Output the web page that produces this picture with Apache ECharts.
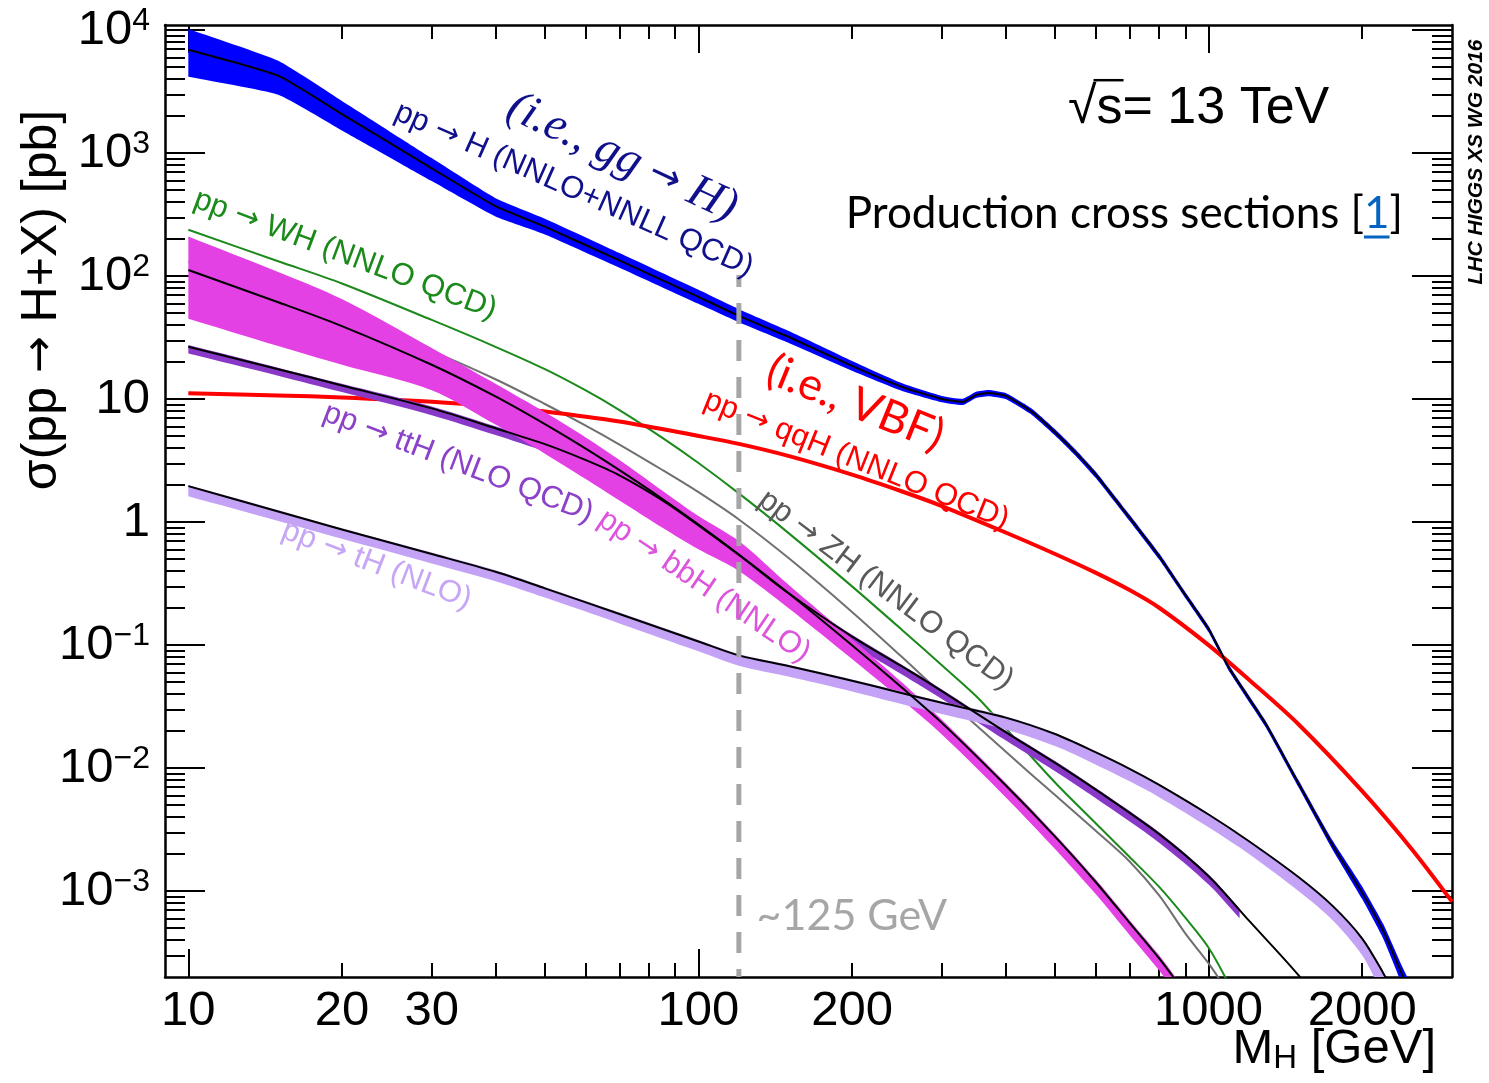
<!DOCTYPE html>
<html>
<head>
<meta charset="utf-8">
<title>Higgs production cross sections, 13 TeV</title>
<script src="https://cdn.jsdelivr.net/npm/echarts@6/dist/echarts.min.js"></script>
<style>
  html, body { margin: 0; padding: 0; background: #ffffff; }
  #chart { width: 1489px; height: 1083px; }
</style>
</head>
<body>
<div id="chart"></div>
<script>
// SM Higgs production cross sections at sqrt(s) = 13 TeV versus M_H (log-log)

const X_MIN = 9, X_MAX = 3000, Y_MIN = 2e-4, Y_MAX = 1.1e4;

// ---- axis ticks and labels ----
const xLabelValues = [10, 20, 30, 100, 200, 1000, 2000];
const xMajorTicks = [10, 100, 1000];
const xMinorTicks = [20, 30, 40, 50, 60, 70, 80, 90, 200, 300, 400, 500, 600, 700, 800, 900, 2000];
const yLabelValues = [1e-3, 1e-2, 1e-1, 1, 10, 100, 1e3, 1e4];
const yLabelTexts = ['{b|10}{s|−3}', '{b|10}{s|−2}', '{b|10}{s|−1}', '{b|1}', '{b|10}',
                     '{b|10}{s|2}', '{b|10}{s|3}', '{b|10}{s|4}'];
const yMinorTicks = [];
for (let e = -4; e <= 3; e++) {
  for (let m = 2; m <= 9; m++) {
    const v = m * Math.pow(10, e);
    if (v > Y_MIN * 1.01 && v < Y_MAX) yMinorTicks.push(v);
  }
}

// ---- pp -> H (gluon fusion), central value and scale band [pb] ----
const mGgH  = [10, 15, 20, 30, 40, 50, 70, 100, 120, 150, 200, 250, 300, 330, 350, 370, 400, 450, 500, 550, 600, 700, 800, 900, 1000, 1100, 1300, 1500, 1750, 2000, 2200, 2400, 2500];
const ggH   = [6930, 4260, 2075, 752, 370, 252, 134, 67.7, 47.5, 32.1, 18.6, 12.6, 10.0, 9.48, 10.8, 11.2, 10.6, 7.9, 5.35, 3.62, 2.44, 1.08, 0.525, 0.255, 0.135, 0.0637, 0.0221, 0.0075, 0.00236, 0.00097, 0.000473, 0.000206, 0.00014];
const ggHLo = [4170, 2980, 1528, 592, 305, 218, 117, 59.5, 42.1, 28.7, 17.0, 11.7, 9.43, 8.95, 10.2, 10.55, 10.0, 7.45, 5.05, 3.42, 2.30, 1.02, 0.495, 0.241, 0.127, 0.060, 0.0207, 0.0070, 0.00217, 0.00086, 0.00041, 0.00017, 0.00011];
const ggHHi = [10200, 5630, 2655, 910, 430, 293, 154, 77.3, 53.8, 35.9, 20.4, 13.5, 10.6, 10.05, 11.45, 11.85, 11.2, 8.37, 5.67, 3.84, 2.59, 1.145, 0.557, 0.270, 0.143, 0.0675, 0.0234, 0.0080, 0.00257, 0.00109, 0.00054, 0.00024, 0.00017];

// ---- pp -> qqH (VBF) ----
const mVBF = [10, 15, 20, 30, 40, 50, 70, 100, 120, 150, 200, 250, 300, 400, 500, 600, 700, 800, 1000, 1200, 1500, 2000, 2500, 3000];
const vbf  = [11.15, 10.7, 10.3, 9.51, 8.71, 7.93, 6.57, 5.01, 4.32, 3.45, 2.43, 1.78, 1.35, 0.822, 0.55, 0.388, 0.28, 0.201, 0.0998, 0.0522, 0.0227, 0.00649, 0.0022, 0.00082];

// ---- pp -> WH ----
const mWH = [10, 15, 20, 30, 40, 50, 60, 70, 85, 100, 120, 150, 200, 250, 300, 350, 400, 500, 600, 700, 800, 900, 1000, 1100];
const wh  = [238, 132, 87.1, 44.0, 26.6, 17.5, 11.8, 8.14, 4.84, 3.02, 1.71, 0.817, 0.300, 0.134, 0.0685, 0.0385, 0.0211, 0.00762, 0.00357, 0.00189, 0.00108, 0.000608, 0.000346, 0.00017];

// ---- pp -> ZH ----
const mZH = [10, 15, 20, 30, 40, 50, 60, 70, 85, 100, 120, 150, 200, 250, 300, 400, 500, 600, 700, 800, 900, 1000, 1100];
const zh  = [130, 73, 48, 24.5, 14.5, 9.12, 6.11, 4.27, 2.65, 1.75, 1.05, 0.512, 0.186, 0.0806, 0.0399, 0.0136, 0.00603, 0.0031, 0.00174, 0.00092, 0.000453, 0.000258, 0.000143];

// ---- pp -> bbH, central value and band ----
const mBbH  = [10, 15, 20, 30, 40, 50, 60, 70, 85, 100, 120, 150, 200, 250, 300, 400, 500, 600, 700, 800, 900];
const bbH   = [112, 61.3, 39.2, 19.0, 10.5, 6.25, 3.97, 2.64, 1.54, 0.955, 0.545, 0.265, 0.0996, 0.0454, 0.0233, 0.00724, 0.00277, 0.00119, 0.000551, 0.000283, 0.000147];
const bbHLo = [45, 27, 19, 11.8, 6.2, 3.6, 2.25, 1.5, 0.9, 0.6, 0.40, 0.2, 0.077, 0.036, 0.0187, 0.0058, 0.0022, 0.00095, 0.00044, 0.000226, 0.000118];
const bbHHi = [210, 108, 65, 26, 13.3, 7.8, 4.9, 3.2, 1.8, 1.12, 0.70, 0.31, 0.112, 0.050, 0.0247, 0.0076, 0.0029, 0.00125, 0.00058, 0.0003, 0.000155];

// ---- pp -> ttH, central value and band ----
const mTtH  = [10, 15, 20, 30, 40, 50, 60, 70, 85, 100, 120, 150, 200, 250, 300, 400, 500, 600, 800, 1000, 1200, 1500, 1600];
const ttH   = [26.6, 17.5, 12.9, 8.4, 5.79, 4.3, 3.2, 2.4, 1.5, 0.94, 0.54, 0.265, 0.117, 0.0673, 0.0422, 0.0196, 0.011, 0.0067, 0.0029, 0.00132, 0.000574, 0.000207, 0.00014];
const mTtHBand = [10, 15, 20, 30, 40, 50, 60, 70, 85, 100, 120, 150, 200, 250, 300, 400, 500, 600, 800, 1000, 1150];
const ttHLo = [23.5, 15.5, 11.4, 7.4, 5.1, 3.75, 2.8, 2.1, 1.31, 0.82, 0.47, 0.231, 0.101, 0.058, 0.0365, 0.0168, 0.0094, 0.0057, 0.00247, 0.00113, 0.00060];
const ttHHi = [27.5, 18.0, 13.3, 8.7, 6.0, 4.45, 3.3, 2.47, 1.55, 0.97, 0.556, 0.273, 0.121, 0.0695, 0.0436, 0.0202, 0.0114, 0.0069, 0.0030, 0.00136, 0.00072];

// ---- pp -> tH, central value and band ----
const mTH  = [10, 15, 20, 30, 40, 50, 70, 100, 120, 150, 200, 250, 300, 400, 500, 600, 700, 800, 1000, 1200, 1500, 1750, 2000, 2200, 2300];
const tH   = [1.96, 1.22, 0.87, 0.55, 0.394, 0.289, 0.179, 0.107, 0.0824, 0.0675, 0.0513, 0.0408, 0.0339, 0.0257, 0.0189, 0.01346, 0.00986, 0.0073, 0.00419, 0.00254, 0.0013, 0.000757, 0.000411, 0.000215, 0.00015];
const tHLo = [1.62, 1.02, 0.73, 0.46, 0.33, 0.243, 0.150, 0.089, 0.068, 0.0555, 0.042, 0.0332, 0.0275, 0.0206, 0.0151, 0.0107, 0.0078, 0.0058, 0.0033, 0.0020, 0.0010, 0.00058, 0.00030, 0.00014, 0.0001];
const tHHi = [2.0, 1.25, 0.89, 0.565, 0.405, 0.297, 0.184, 0.110, 0.0845, 0.069, 0.0525, 0.042, 0.0348, 0.0264, 0.0193, 0.0137, 0.0100, 0.0074, 0.00425, 0.00258, 0.00132, 0.00077, 0.00042, 0.00022, 0.00015];

// ---- reference mass marker ----
const refMass = 120;
const refLineTop = 102;

// ---- styling ----
const SANS = '"Liberation Sans", Arial, Helvetica, sans-serif';
const ARROW = '"DejaVu Sans", sans-serif';
const HUMAN = 'Lato, "Open Sans", sans-serif';
const SERIF = '"Liberation Serif", "DejaVu Serif", serif';
const C = {
  ggBand: '#0000ff', ggText: '#10108c',
  vbf: '#ff0000',
  wh: '#1b8a1b',
  zh: '#707070', zhText: '#5a5a5a',
  bbBand: '#e441e4', bbText: '#dc55dc',
  ttBand: '#8a38c8', ttText: '#8c42c8',
  tBand: '#c4a2f5', tText: '#c6a6f5',
  ref: '#a6a6a6'
};
const SMOOTH = 0.3;

function pairs(xs, ys) { return xs.map((x, i) => [x, ys[i]]); }

// filled band between lower and upper curves; corner points doubled so the smoothing keeps the ends square
function bandSeries(name, xs, lo, hi, fill, z, smooth) {
  return {
    type: 'custom', name: name, xAxisIndex: 0, yAxisIndex: 0, z: z,
    silent: true, clip: true, animation: false,
    data: [[xs[0], hi[0]]],
    renderItem: function (params, api) {
      const n = xs.length;
      const pts = [];
      for (let i = 0; i < n; i++) {
        const p = api.coord([xs[i], hi[i]]);
        pts.push(p);
        if (i === 0 || i === n - 1) pts.push(p.slice());
      }
      for (let i = n - 1; i >= 0; i--) {
        const p = api.coord([xs[i], lo[i]]);
        pts.push(p);
        if (i === 0 || i === n - 1) pts.push(p.slice());
      }
      return { type: 'polygon', shape: { points: pts, smooth: smooth }, style: { fill: fill, stroke: null } };
    }
  };
}

function curveSeries(name, xs, ys, color, width, z, smooth) {
  return {
    type: 'line', name: name, xAxisIndex: 0, yAxisIndex: 0, z: z,
    data: pairs(xs, ys), showSymbol: false, symbol: 'none', smooth: smooth,
    clip: true, silent: true, animation: false,
    lineStyle: { color: color, width: width }
  };
}

function logAxis(kind, extra) {
  const base = {
    type: 'log', logBase: 10,
    min: kind === 'x' ? X_MIN : Y_MIN, max: kind === 'x' ? X_MAX : Y_MAX,
    splitLine: { show: false }, minorTick: { show: false }, minorSplitLine: { show: false },
    axisLine: { show: false }, axisLabel: { show: false },
    axisPointer: { show: false }
  };
  return Object.assign(base, extra);
}
const frameLine = { show: true, onZero: false, lineStyle: { color: '#000', width: 2.5 } };
const tickStyle = { color: '#000', width: 2 };

function xLabel(v) { return String(Math.round(v)); }
function yLabel(v) {
  const e = Math.round(Math.log10(v));
  const i = yLabelValues.findIndex(t => Math.round(Math.log10(t)) === e);
  return i >= 0 ? yLabelTexts[i] : '';
}

const chart = echarts.init(document.getElementById('chart'), null, { renderer: 'canvas' });

chart.setOption({
  animation: false,
  backgroundColor: '#ffffff',
  grid: { left: 165, top: 25, right: 37, bottom: 106, containLabel: false, outerBoundsMode: 'none' },
  xAxis: [
    logAxis('x', {
      position: 'bottom', axisLine: frameLine,
      axisTick: { show: true, inside: true, length: 28, customValues: xMajorTicks, lineStyle: tickStyle },
      axisLabel: { show: true, customValues: xLabelValues, formatter: xLabel, fontFamily: SANS,
                   fontSize: 49, lineHeight: 49, color: '#000', margin: 10 }
    }),
    logAxis('x', { position: 'bottom',
      axisTick: { show: true, inside: true, length: 14, customValues: xMinorTicks, lineStyle: tickStyle } }),
    logAxis('x', { position: 'top', axisLine: frameLine,
      axisTick: { show: true, inside: true, length: 28, customValues: xMajorTicks, lineStyle: tickStyle } }),
    logAxis('x', { position: 'top',
      axisTick: { show: true, inside: true, length: 14, customValues: xMinorTicks, lineStyle: tickStyle } })
  ],
  yAxis: [
    logAxis('y', {
      position: 'left', axisLine: frameLine,
      axisTick: { show: true, inside: true, length: 40, customValues: yLabelValues, lineStyle: tickStyle },
      axisLabel: {
        show: true, customValues: yLabelValues, formatter: yLabel, margin: 15, align: 'right',
        rich: {
          b: { fontFamily: SANS, fontSize: 49, lineHeight: 50, color: '#000', verticalAlign: 'bottom', padding: [10, 0, 0, 0] },
          s: { fontFamily: SANS, fontSize: 32, lineHeight: 32, color: '#000', verticalAlign: 'top' }
        }
      }
    }),
    logAxis('y', { position: 'left',
      axisTick: { show: true, inside: true, length: 20, customValues: yMinorTicks, lineStyle: tickStyle } }),
    logAxis('y', { position: 'right', axisLine: frameLine,
      axisTick: { show: true, inside: true, length: 40, customValues: yLabelValues, lineStyle: tickStyle } }),
    logAxis('y', { position: 'right',
      axisTick: { show: true, inside: true, length: 20, customValues: yMinorTicks, lineStyle: tickStyle } })
  ],
  series: [
    bandSeries('ggH band', mGgH, ggHLo, ggHHi, C.ggBand, 1, 0.15),
    curveSeries('ZH', mZH, zh, C.zh, 2, 2, SMOOTH),
    curveSeries('WH', mWH, wh, C.wh, 2, 2, SMOOTH),
    curveSeries('qqH', mVBF, vbf, C.vbf, 4, 2, SMOOTH),
    bandSeries('ttH band', mTtHBand, ttHLo, ttHHi, C.ttBand, 3, SMOOTH),
    bandSeries('bbH band', mBbH, bbHLo, bbHHi, C.bbBand, 4, SMOOTH),
    bandSeries('tH band', mTH, tHLo, tHHi, C.tBand, 5, SMOOTH),
    curveSeries('ttH', mTtH, ttH, '#000', 2, 6, SMOOTH),
    curveSeries('bbH', mBbH, bbH, '#000', 2, 6, SMOOTH),
    curveSeries('tH', mTH, tH, '#000', 2, 6, SMOOTH),
    curveSeries('ggH', mGgH, ggH, '#000', 2, 6, 0.15),
    {
      type: 'line', name: 'reference mass', xAxisIndex: 0, yAxisIndex: 0, z: 8,
      data: [[refMass, refLineTop], [refMass, Y_MIN]], showSymbol: false, symbol: 'none',
      silent: true, animation: false,
      lineStyle: { color: C.ref, width: 5, type: [21, 16], dashOffset: 9 }
    }
  ]
});

// ---- text annotations along the curves, anchored in data coordinates ----
const notes = [
  { pre: 'pp ', post: ' H (NNLO+NNLL QCD)', at: [57.0, 502], angle: 24, color: C.ggText },
  { pre: 'pp ', post: ' WH (NNLO QCD)', at: [20.3, 149], angle: 20.5, color: C.wh },
  { pre: 'pp ', post: ' qqH (NNLO QCD)', at: [204, 3.19], angle: 22, color: C.vbf },
  { pre: 'pp ', post: ' ttH (NLO QCD)', at: [33.8, 3.02], angle: 21, color: C.ttText },
  { pre: 'pp ', post: ' bbH (NNLO)', at: [102.6, 0.301], angle: 34, color: C.bbText },
  { pre: 'pp ', post: ' ZH (NNLO QCD)', at: [233, 0.28], angle: 37, color: C.zhText },
  { pre: 'pp ', post: ' tH (NLO)', at: [23.4, 0.447], angle: 21, color: C.tText }
];
const NOTE_SIZE = 31;

const toPx = p => chart.convertToPixel({ xAxisIndex: 0, yAxisIndex: 0 }, p);
const deg = Math.PI / 180;
const graphics = [];

notes.forEach(n => {
  const p = toPx(n.at);
  graphics.push({
    type: 'text', x: p[0], y: p[1], rotation: -n.angle * deg, silent: true, z: 20,
    style: {
      text: '{t|' + n.pre + '}{a|→}{t|' + n.post + '}',
      align: 'center', verticalAlign: 'middle', textAlign: 'center', textVerticalAlign: 'middle',
      rich: {
        t: { fontFamily: SANS, fontSize: NOTE_SIZE, fill: n.color, color: n.color },
        a: { fontFamily: ARROW, fontSize: NOTE_SIZE * 0.95, fill: n.color, color: n.color }
      }
    }
  });
});

// process nicknames
const ggNick = toPx([70.8, 916]);
graphics.push({
  type: 'text', x: ggNick[0], y: ggNick[1], rotation: -25 * deg, silent: true, z: 20,
  style: {
    text: '{i|(i.e., gg }{a|→}{i| H)}', align: 'center', verticalAlign: 'middle',
    textAlign: 'center', textVerticalAlign: 'middle',
    rich: {
      i: { fontFamily: SERIF, fontStyle: 'italic', fontSize: 47, fill: C.ggText, color: C.ggText },
      a: { fontFamily: ARROW, fontSize: 38, fill: C.ggText, color: C.ggText }
    }
  }
});
const vbfNick = toPx([203, 9.29]);
graphics.push({
  type: 'text', x: vbfNick[0], y: vbfNick[1], rotation: -22 * deg, silent: true, z: 20,
  style: { text: '(i.e., VBF)', fill: C.vbf, fontFamily: HUMAN, fontSize: 45,
           align: 'center', verticalAlign: 'middle', textAlign: 'center', textVerticalAlign: 'middle' }
});

// mass marker label
const refLbl = toPx([130, 6.2e-4]);
graphics.push({
  type: 'text', x: refLbl[0], y: refLbl[1], silent: true, z: 20,
  style: { text: '~125 GeV', fill: C.ref, fontFamily: HUMAN, fontSize: 43,
           align: 'left', verticalAlign: 'middle', textAlign: 'left', textVerticalAlign: 'middle' }
});

// ---- header texts ----
const meas = document.createElement('canvas').getContext('2d');
function textWidth(str, font) { meas.font = font; return meas.measureText(str).width; }

const sqrtX = 1068, sqrtBase = 127, sqrtSize = 52;
graphics.push({
  type: 'text', x: sqrtX, y: sqrtBase - 0.35 * sqrtSize, silent: true, z: 20,
  style: { text: '√s= 13 TeV', fill: '#000', fontFamily: SANS, fontSize: sqrtSize,
           align: 'left', verticalAlign: 'middle', textAlign: 'left', textVerticalAlign: 'middle' }
});
const wRad = textWidth('√', sqrtSize + 'px "Liberation Sans"');
const wRadS = textWidth('√s', sqrtSize + 'px "Liberation Sans"');
graphics.push({
  type: 'line', silent: true, z: 20,
  shape: { x1: sqrtX + wRad - 3, y1: sqrtBase - 0.9 * sqrtSize, x2: sqrtX + wRadS + 1, y2: sqrtBase - 0.9 * sqrtSize },
  style: { stroke: '#000', lineWidth: 2.5 }
});

const prodRight = 1403, prodBase = 230, prodSize = 44;
graphics.push({
  type: 'text', x: prodRight, y: prodBase - 0.37 * prodSize, silent: true, z: 20,
  style: {
    text: '{t|Production cross sections [}{l|1}{t|]}', align: 'right', verticalAlign: 'middle',
    textAlign: 'right', textVerticalAlign: 'middle',
    rich: {
      t: { fontFamily: HUMAN, fontSize: prodSize, fill: '#000', color: '#000' },
      l: { fontFamily: HUMAN, fontSize: prodSize, fill: '#0563c1', color: '#0563c1' }
    }
  }
});
const wBr = textWidth(']', prodSize + 'px Lato');
const wOne = textWidth('1', prodSize + 'px Lato');
graphics.push({
  type: 'line', silent: true, z: 20,
  shape: { x1: prodRight - wBr - wOne, y1: prodBase + 7, x2: prodRight - wBr, y2: prodBase + 7 },
  style: { stroke: '#0563c1', lineWidth: 3 }
});

graphics.push({
  type: 'text', x: 1476, y: 162, rotation: Math.PI / 2, silent: true, z: 20,
  style: { text: 'LHC HIGGS XS WG 2016', fill: '#000', fontFamily: SANS, fontSize: 21,
           fontWeight: 'bold', fontStyle: 'italic',
           align: 'center', verticalAlign: 'middle', textAlign: 'center', textVerticalAlign: 'middle' }
});

// ---- axis titles ----
graphics.push({
  type: 'text', x: 42, y: 300, rotation: Math.PI / 2, silent: true, z: 20,
  style: {
    text: '{t|σ(pp }{a|→}{t| H+X) [pb]}', align: 'center', verticalAlign: 'middle',
    textAlign: 'center', textVerticalAlign: 'middle',
    rich: {
      t: { fontFamily: SANS, fontSize: 50, fill: '#000', color: '#000' },
      a: { fontFamily: ARROW, fontSize: 44, fill: '#000', color: '#000' }
    }
  }
});
graphics.push({
  type: 'text', x: 1436, y: 1025, silent: true, z: 20,
  style: {
    text: '{m|M}{h|H}{m| [GeV]}', align: 'right', verticalAlign: 'top',
    textAlign: 'right', textVerticalAlign: 'top',
    rich: {
      m: { fontFamily: SANS, fontSize: 49, lineHeight: 50, verticalAlign: 'top', fill: '#000', color: '#000' },
      h: { fontFamily: SANS, fontSize: 33, lineHeight: 33, verticalAlign: 'bottom', padding: [30, 0, 0, 0], fill: '#000', color: '#000' }
    }
  }
});

chart.setOption({ graphic: graphics });
</script>
</body>
</html>
